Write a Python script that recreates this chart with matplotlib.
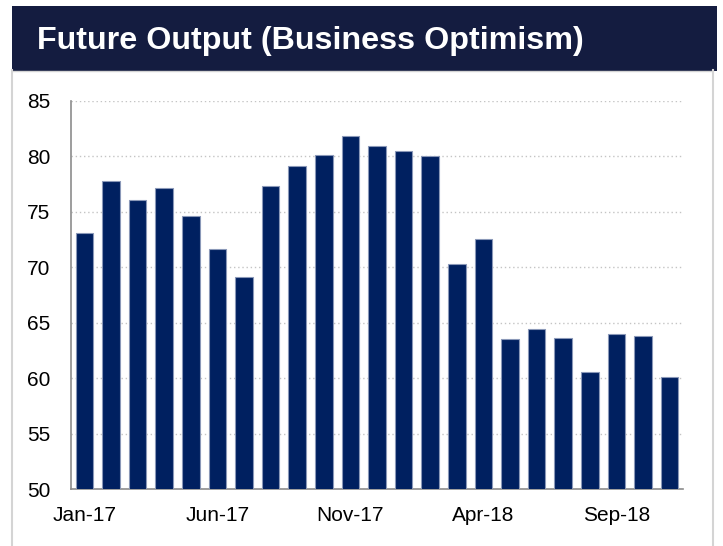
import matplotlib.pyplot as plt
from matplotlib.patches import Rectangle
from matplotlib.lines import Line2D
import numpy as np

plt.rcParams['font.family'] = ['Liberation Sans', 'DejaVu Sans']

# monthly survey values, Jan-17 .. Nov-18
months = ['Jan-17', 'Feb-17', 'Mar-17', 'Apr-17', 'May-17', 'Jun-17', 'Jul-17', 'Aug-17',
          'Sep-17', 'Oct-17', 'Nov-17', 'Dec-17', 'Jan-18', 'Feb-18', 'Mar-18', 'Apr-18',
          'May-18', 'Jun-18', 'Jul-18', 'Aug-18', 'Sep-18', 'Oct-18', 'Nov-18']
values = [73.1, 77.8, 76.1, 77.1, 74.6, 71.6, 69.1, 77.3, 79.1, 80.1, 81.8, 80.9,
          80.5, 80.0, 70.3, 72.5, 63.5, 64.4, 63.6, 60.6, 64.0, 63.8, 60.1]
yticks = [50, 55, 60, 65, 70, 75, 80, 85]
title = 'Future Output (Business Optimism)'

W, H = 723, 546
fig = plt.figure(figsize=(W / 100, H / 100), dpi=100)

def fx(px):
    return px / W

def fy(py):
    return 1 - py / H

# light side frame lines and navy banner
for xp in (12, 713):
    fig.lines.append(Line2D([fx(xp), fx(xp)], [fy(70), fy(546)], transform=fig.transFigure,
                            color='#D4D4D4', lw=1.5))
fig.lines.append(Line2D([fx(12), fx(713)], [fy(71), fy(71)], transform=fig.transFigure,
                        color='#D4D4D4', lw=1))
fig.patches.append(Rectangle((fx(12), fy(70.5)), fx(717) - fx(12), fy(6) - fy(70.5),
                             transform=fig.transFigure, facecolor='#141C40',
                             edgecolor='none', zorder=1))
fig.text(fx(37), fy(41), title, color='white', fontsize=23.2, fontweight='bold',
         ha='left', va='center')

ax = fig.add_axes([fx(71), fy(489.3), fx(683) - fx(71), fy(100.7) - fy(489.3)])
ax.patch.set_alpha(0)

x = np.arange(len(months))
ax.bar(x, values, width=0.66, color='#002060', edgecolor='#8A98B8', linewidth=0.8, zorder=3)

ax.set_xlim(-0.5, len(months) - 0.5)
ax.set_ylim(50, 85)
ax.set_yticks(yticks)
ax.set_xticks(x[::5])
ax.set_xticklabels(months[::5])
ax.tick_params(axis='both', length=0, labelsize=15, colors='black')
ax.tick_params(axis='y', pad=15)
ax.tick_params(axis='x', pad=12)

ax.grid(axis='y', linestyle=(0, (1, 2)), color='#C4C4C4', linewidth=1, zorder=0)
for s in ['top', 'right']:
    ax.spines[s].set_visible(False)
for s in ['left', 'bottom']:
    ax.spines[s].set_color('#8C8C8C')
    ax.spines[s].set_linewidth(1.2)

fig.savefig('out.png', dpi=100)
